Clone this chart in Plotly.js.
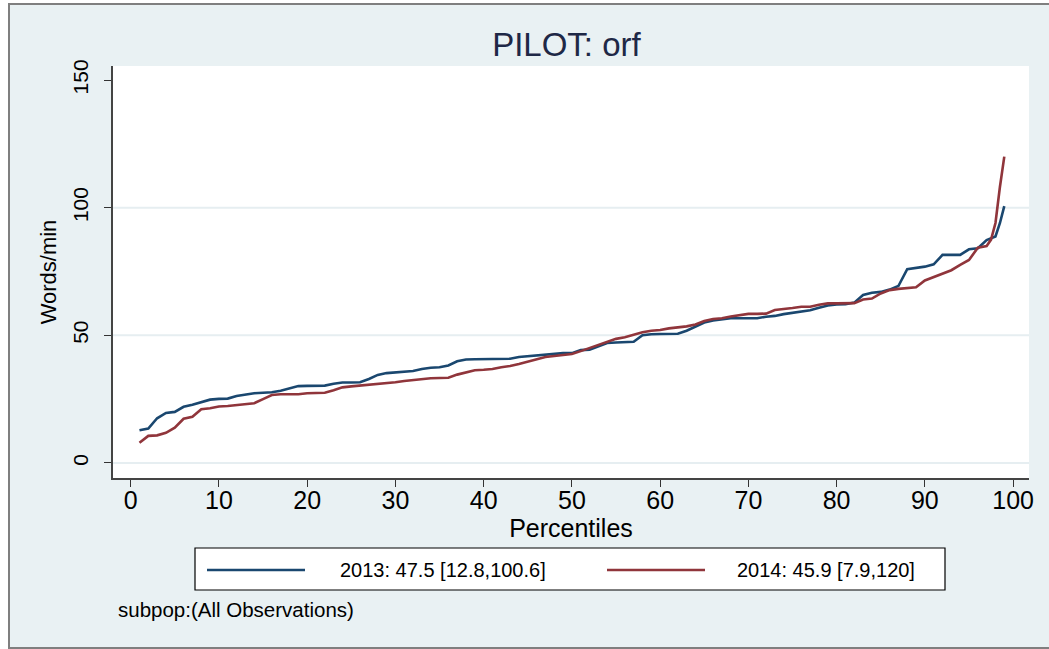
<!DOCTYPE html>
<html>
<head>
<meta charset="utf-8">
<script src="https://cdn.plot.ly/plotly-3.0.1.min.js"></script>
<style>
  html, body { margin: 0; padding: 0; background: #ffffff; overflow: hidden; }
  #frame { position: absolute; left: 8px; top: 3px; width: 1060px; height: 642px;
           border: 2px solid #7f7f7f; border-right: none; background: #e9f1f3; }
  #chart { position: absolute; left: 0; top: 0; width: 1049px; height: 649px; }
</style>
</head>
<body>
<div id="frame"></div>
<div id="chart"></div>
<script>
// ---- data ----
const percentiles = [1,2,3,4,5,6,7,8,9,10,11,12,13,14,15,16,17,18,19,20,
  21,22,23,24,25,26,27,28,29,30,31,32,33,34,35,36,37,38,39,40,
  41,42,43,44,45,46,47,48,49,50,51,52,53,54,55,56,57,58,59,60,
  61,62,63,64,65,66,67,68,69,70,71,72,73,74,75,76,77,78,79,80,
  81,82,83,84,85,86,87,88,89,90,91,92,93,94,95,96,97,97.5,98,98.5,99];

const orf2013 = [12.8,13.5,17.5,19.6,20.0,22.0,22.8,23.8,24.8,25.1,
  25.2,26.2,26.8,27.3,27.5,27.7,28.3,29.2,30.1,30.2,
  30.2,30.3,31.0,31.5,31.5,31.6,32.9,34.5,35.2,35.5,
  35.8,36.0,36.8,37.3,37.5,38.2,39.8,40.5,40.6,40.7,
  40.7,40.7,40.8,41.5,41.8,42.3,42.6,42.8,43.0,43.0,
  44.2,44.4,45.8,47.0,47.2,47.3,47.5,50.0,50.4,50.5,
  50.5,50.6,51.8,53.4,55.0,55.8,56.2,56.7,56.7,56.7,
  56.7,57.3,57.6,58.3,58.8,59.3,59.8,60.8,61.7,62.1,
  62.2,62.8,65.8,66.7,67.0,67.9,69.3,75.9,76.4,76.9,
  77.8,81.5,81.5,81.5,83.7,84.1,87.3,88.0,88.7,93.9,100.6];

const orf2014 = [7.9,10.6,10.8,11.8,13.8,17.3,18.1,21.0,21.4,22.1,
  22.3,22.7,23.0,23.4,25.0,26.6,26.9,26.9,26.9,27.3,
  27.5,27.5,28.5,29.6,30.0,30.3,30.6,30.8,31.3,31.6,
  32.1,32.5,32.9,33.2,33.3,33.4,34.6,35.6,36.3,36.5,
  36.8,37.5,38.0,38.8,39.6,40.6,41.5,41.9,42.4,42.7,
  43.8,45.0,46.0,47.5,48.6,49.2,50.2,51.2,51.8,52.1,
  52.7,53.0,53.5,54.2,55.6,56.4,56.7,57.4,58.0,58.4,
  58.4,58.5,59.9,60.2,60.7,61.2,61.2,62.0,62.5,62.5,
  62.5,62.6,64.0,64.4,66.4,67.7,68.2,68.5,68.8,71.5,
  72.8,74.0,75.5,77.6,79.5,84.3,85.0,87.5,94.0,108.0,120.0];

const seriesNames = ["2013: 47.5 [12.8,100.6]", "2014: 45.9 [7.9,120]"];
const xTicks = [0,10,20,30,40,50,60,70,80,90,100];
const yTicks = [0,50,100,150];
const yGrid = [0,50,100];
const chartTitle = "PILOT: orf";
const xTitle = "Percentiles";
const yTitle = "Words/min";
const note = "subpop:(All Observations)";

// ---- style / layout ----
const W = 1049, H = 649;
const M = {l: 113, r: 20, t: 66, b: 171};
const PW = W - M.l - M.r, PH = H - M.t - M.b;
const px = x => (x - M.l) / PW;       // pixel -> paper x
const py = y => (H - M.b - y) / PH;   // pixel -> paper y

const FONT = "Arial, 'Liberation Sans', sans-serif";
const BLUE = "#1a476f", RED = "#90353b";

const traces = [
  {x: percentiles, y: orf2013, type: "scatter", mode: "lines", name: seriesNames[0],
   line: {color: BLUE, width: 2.6}, showlegend: false, hoverinfo: "x+y"},
  {x: percentiles, y: orf2014, type: "scatter", mode: "lines", name: seriesNames[1],
   line: {color: RED, width: 2.6}, showlegend: false, hoverinfo: "x+y"}
];

const shapes = yGrid.map(v => ({
  type: "line", xref: "paper", yref: "y", x0: 0, x1: 1, y0: v, y1: v,
  line: {color: "#e6eef1", width: 2}, layer: "below"
}));
// legend box
shapes.push({type: "rect", xref: "paper", yref: "paper",
  x0: px(195), x1: px(945), y0: py(590), y1: py(548),
  line: {color: "#000", width: 1.2}, fillcolor: "#ffffff"});
shapes.push({type: "line", xref: "paper", yref: "paper",
  x0: px(207), x1: px(305), y0: py(570), y1: py(570), line: {color: BLUE, width: 2.6}});
shapes.push({type: "line", xref: "paper", yref: "paper",
  x0: px(607), x1: px(705), y0: py(570), y1: py(570), line: {color: RED, width: 2.6}});

const annotations = [
  {xref: "paper", yref: "paper", x: px(338), y: py(570), xanchor: "left", yanchor: "middle",
   text: seriesNames[0], showarrow: false, font: {family: FONT, size: 20, color: "#000"}},
  {xref: "paper", yref: "paper", x: px(735), y: py(570), xanchor: "left", yanchor: "middle",
   text: seriesNames[1], showarrow: false, font: {family: FONT, size: 20, color: "#000"}},
  {xref: "paper", yref: "paper", x: px(116), y: py(609), xanchor: "left", yanchor: "middle",
   text: note, showarrow: false, font: {family: FONT, size: 20.5, color: "#000"}}
];

const layout = {
  width: W, height: H,
  margin: M,
  paper_bgcolor: "rgba(0,0,0,0)",
  plot_bgcolor: "#ffffff",
  font: {family: FONT, color: "#000"},
  title: {text: chartTitle, x: 0.495, xref: "paper", y: 1 - 44 / H, yref: "container",
          xanchor: "center", yanchor: "middle",
          font: {family: FONT, size: 33, color: "#1e2846"}},
  xaxis: {range: [-2, 101.8], tickmode: "array", tickvals: xTicks, ticktext: xTicks.map(String),
          ticks: "outside", ticklen: 7, tickwidth: 1.3, tickcolor: "#333",
          ticklabelstandoff: -8,
          showline: true, linecolor: "#444", linewidth: 1.5, mirror: false,
          showgrid: false, zeroline: false, automargin: false,
          tickfont: {family: FONT, size: 25, color: "#000"},
          title: {text: xTitle, standoff: 0, font: {family: FONT, size: 25, color: "#000"}}},
  yaxis: {range: [-5.9, 155.5], tickmode: "array", tickvals: yTicks, ticktext: yTicks.map(String),
          tickangle: -90, ticks: "outside", ticklen: 7, tickwidth: 1.3, tickcolor: "#333",
          ticklabelstandoff: 8,
          showline: true, linecolor: "#444", linewidth: 1.5,
          showgrid: false, zeroline: false, automargin: false,
          tickfont: {family: FONT, size: 21, color: "#000"},
          title: {text: yTitle, standoff: 6, font: {family: FONT, size: 22, color: "#000"}}},
  shapes: shapes,
  annotations: annotations,
  showlegend: false
};

Plotly.newPlot("chart", traces, layout, {displayModeBar: false, responsive: false});
</script>
</body>
</html>
